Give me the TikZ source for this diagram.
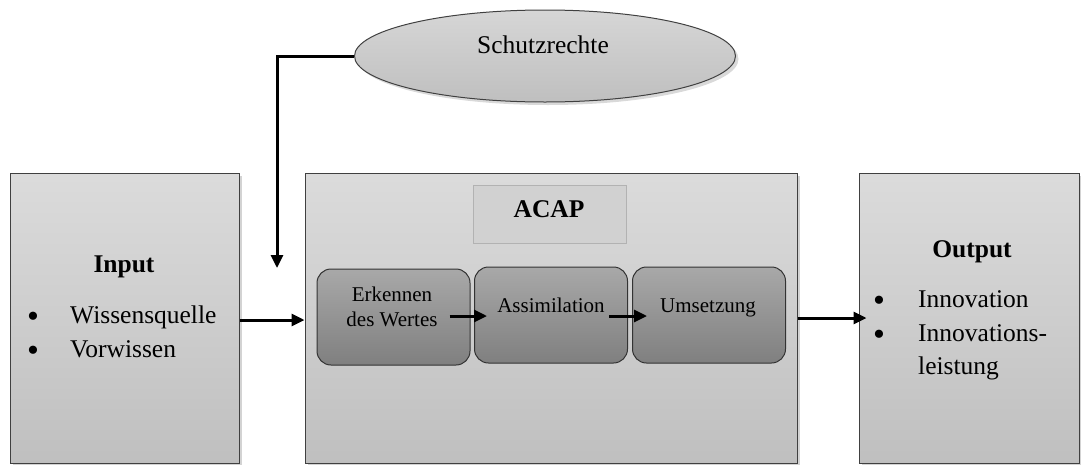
\documentclass[tikz,border=0pt]{standalone}
\usepackage{fontspec}
\setmainfont{Liberation Serif}
\usetikzlibrary{shapes.geometric,shadows,arrows.meta,calc}
\begin{document}
\begin{tikzpicture}[x=1pt,y=-1pt,
  bigbox/.style={draw=black!75,line width=1pt,top color=black!14,bottom color=black!25,
     drop shadow={shadow xshift=3pt,shadow yshift=-3pt,opacity=0.35},inner sep=0pt},
  stepbox/.style={draw=black!80,line width=1pt,rounded corners=14pt,top color=black!34,bottom color=black!50,inner sep=0pt,
     minimum width=153pt,minimum height=96pt},
  titlebox/.style={draw=black!30,line width=0.8pt,fill=black!18,inner sep=0pt,minimum width=153pt,minimum height=58pt},
  arr/.style={line width=3pt,-{Triangle[length=13pt,width=12pt]}},
  big/.style={font=\fontsize{25.5}{30}\selectfont,inner sep=0pt,anchor=base},
  bul/.style={font=\fontsize{34}{30}\selectfont,inner sep=0pt,anchor=base},
  bigb/.style={font=\fontsize{25.5}{30}\selectfont\bfseries,inner sep=0pt,anchor=base},
  small/.style={font=\fontsize{21}{25}\selectfont,inner sep=0pt,anchor=base}
]
\useasboundingbox (0,0) rectangle (1081,464);
% outer boxes
\node[bigbox,minimum width=229pt,minimum height=290pt] (inp) at (124.5,318) {};
\node[bigbox,minimum width=492pt,minimum height=290pt] (acap) at (551,318) {};
\node[bigbox,minimum width=220pt,minimum height=290pt] (out) at (969,318) {};
% ellipse
\node[ellipse,draw=black!75,line width=1pt,top color=black!16,bottom color=black!25,
   drop shadow={shadow xshift=3pt,shadow yshift=-3pt,opacity=0.3},
   minimum width=381pt,minimum height=92pt,inner sep=0pt] (sch) at (545,56) {};
\node[big] (schT) at (543,53) {Schutzrechte};
% title
\node[titlebox] (title) at (549.5,214) {};
\node[bigb] (titleT) at (549,217) {ACAP};
% step boxes
\node[stepbox] (e1) at (393.5,317) {};
\node[stepbox] (e2) at (551,315) {};
\node[stepbox] (e3) at (709,315) {};
\node[small] (e1a) at (392,301) {Erkennen};
\node[small] (e1b) at (392,326) {des Wertes};
\node[small] (e2T) at (551,312) {Assimilation};
\node[small] (e3T) at (708,312) {Umsetzung};
% input texts
\node[bigb] (inT) at (124,272) {Input};
\node[bul] (inb1) at (33,327) {•};
\node[bul] (inb2) at (33,361) {•};
\node[big,anchor=base west] (in1) at (70,323) {Wissensquelle};
\node[big,anchor=base west] (in2) at (70,357) {Vorwissen};
% output texts
\node[bigb] (outT) at (972,257) {Output};
\node[bul] (ob1) at (879,311) {•};
\node[bul] (ob2) at (879,345) {•};
\node[big,anchor=base west] (o1) at (918,307) {Innovation};
\node[big,anchor=base west] (o2) at (918,341) {Innovations-};
\node[big,anchor=base west] (o3) at (918,374) {leistung};
% connectors
\coordinate (tip) at (277,268);
\draw[arr] (sch.west) -| (tip);
\draw[arr] (inp.east) ++(0,2) coordinate (ia) -- (ia -| acap.west);
\draw[arr] (acap.east) -- ($(out.west)+(8,0)$);
\draw[arr] ($(e1.east)+(-21,-1)$) -- ($(e2.west)+(13,1)$);
\draw[arr] ($(e2.east)+(-19,1)$) -- ($(e3.west)+(15,1)$);
\end{tikzpicture}
\end{document}
